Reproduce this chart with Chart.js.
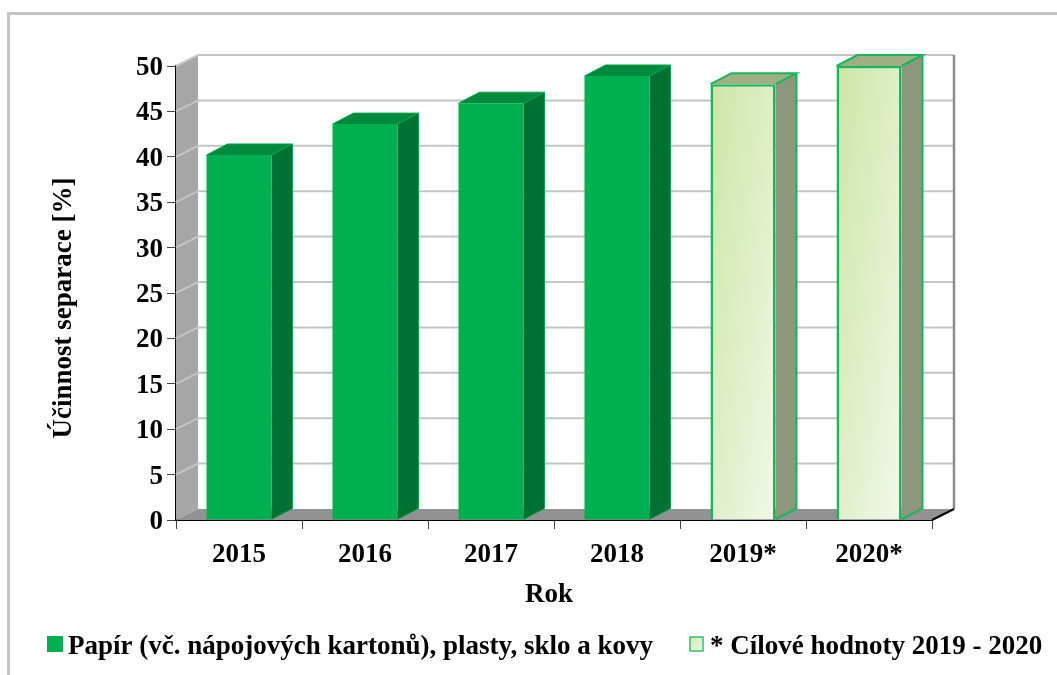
<!DOCTYPE html>
<html>
<head>
<meta charset="utf-8">
<script src="https://cdn.jsdelivr.net/npm/chart.js@4"></script>
<style>
  html, body { margin: 0; padding: 0; background: #fff; }
  canvas { display: block; }
</style>
</head>
<body>
<canvas id="chart" width="1057" height="675"></canvas>
<script>
const YEARS = ['2015', '2016', '2017', '2018', '2019*', '2020*'];
const ACTUAL_VALUES = [40.2, 43.6, 45.9, 48.9, null, null];
const TARGET_VALUES = [null, null, null, null, 48, 50];
const ACTUAL_LABEL = 'Papír (vč. nápojových kartonů), plasty, sklo a kovy';
const TARGET_LABEL = '* Cílové hodnoty 2019 - 2020';
const Y_TITLE = 'Účinnost separace [%]';
const X_TITLE = 'Rok';

const SERIF = '"Liberation Serif", "Times New Roman", serif';
const DEPTH_X = 22;
const DEPTH_Y = 11;

function polygon(ctx, pts, fill) {
  ctx.beginPath();
  pts.forEach((p, i) => i ? ctx.lineTo(p[0], p[1]) : ctx.moveTo(p[0], p[1]));
  ctx.closePath();
  ctx.fillStyle = fill;
  ctx.fill();
}

function drawWalls(chart) {
  const { ctx, chartArea: a, scales } = chart;
  polygon(ctx, [[a.left, a.top], [a.left + DEPTH_X, a.top - DEPTH_Y], [a.left + DEPTH_X, a.bottom - DEPTH_Y], [a.left, a.bottom]], '#a6a6a6');
  polygon(ctx, [[a.left, a.bottom], [a.right, a.bottom], [a.right + DEPTH_X, a.bottom - DEPTH_Y], [a.left + DEPTH_X, a.bottom - DEPTH_Y]], '#929292');

  ctx.lineWidth = 2;
  scales.y.ticks.forEach(t => {
    if (t.value === 0) return;
    const y = scales.y.getPixelForValue(t.value);
    ctx.strokeStyle = '#c4c4c4';
    ctx.beginPath();
    ctx.moveTo(a.left, y);
    ctx.lineTo(a.left + DEPTH_X, y - DEPTH_Y);
    ctx.lineTo(a.right + DEPTH_X, y - DEPTH_Y);
    ctx.stroke();
  });

  ctx.strokeStyle = '#8c8c8c';
  ctx.lineWidth = 2.5;
  ctx.beginPath();
  ctx.moveTo(a.right + DEPTH_X, a.top - DEPTH_Y);
  ctx.lineTo(a.right + DEPTH_X, a.bottom - DEPTH_Y);
  ctx.stroke();

  ctx.strokeStyle = '#000';
  ctx.lineWidth = 2;
  ctx.beginPath();
  ctx.moveTo(a.right, a.bottom);
  ctx.lineTo(a.right + DEPTH_X, a.bottom - DEPTH_Y);
  ctx.stroke();
}

function drawBarDepth(chart, datasetIndex, values, sideFill, topFill, edge, edgeWidth) {
  const { ctx } = chart;
  chart.getDatasetMeta(datasetIndex).data.forEach((bar, i) => {
    if (values[i] === null) return;
    const left = bar.x - bar.width / 2;
    const right = bar.x + bar.width / 2;
    const side = [[right, bar.y], [right + DEPTH_X - 1, bar.y - DEPTH_Y], [right + DEPTH_X - 1, bar.base - DEPTH_Y], [right, bar.base]];
    const top = [[left, bar.y], [left + DEPTH_X - 1, bar.y - DEPTH_Y], [right + DEPTH_X - 1, bar.y - DEPTH_Y], [right, bar.y]];
    polygon(ctx, side, sideFill);
    polygon(ctx, top, topFill);
    ctx.strokeStyle = edge;
    ctx.lineWidth = edgeWidth;
    ctx.beginPath();
    [top[0], top[1], top[2], top[3]].forEach((p, k) => k ? ctx.lineTo(p[0], p[1]) : ctx.moveTo(p[0], p[1]));
    ctx.moveTo(side[1][0], side[1][1]);
    ctx.lineTo(side[2][0], side[2][1]);
    ctx.lineTo(side[3][0], side[3][1]);
    ctx.stroke();
  });
}

function targetGradient(context) {
  const { chart, dataIndex } = context;
  const { ctx, chartArea, scales } = chart;
  if (!chartArea || !TARGET_VALUES[dataIndex]) return '#dcebc4';
  const x = scales.x.getPixelForValue(dataIndex);
  const top = scales.y.getPixelForValue(TARGET_VALUES[dataIndex]);
  const g = ctx.createLinearGradient(x - 32, top, x + 95, top + 19);
  g.addColorStop(0, '#cde5a5');
  g.addColorStop(1, '#f1f8e8');
  return g;
}

const depthPlugin = {
  id: 'depth',
  beforeDatasetsDraw(chart) {
    drawWalls(chart);
    drawBarDepth(chart, 0, ACTUAL_VALUES, '#007033', '#008a3e', '#00a64c', 1);
    drawBarDepth(chart, 1, TARGET_VALUES, '#8c977c', '#a1ad83', '#12b85c', 2);
  },
};

const textPlugin = {
  id: 'texts',
  afterDraw(chart) {
    const { ctx } = chart;
    ctx.save();
    ctx.fillStyle = '#000';
    ctx.textBaseline = 'alphabetic';
    ctx.textAlign = 'left';

    ctx.font = 'bold 27px ' + SERIF;
    ctx.fillStyle = '#00b050';
    ctx.fillRect(47, 636, 16, 16);
    ctx.fillStyle = '#000';
    ctx.fillText(ACTUAL_LABEL, 68, 654);

    const g = ctx.createLinearGradient(690, 637, 703, 651);
    g.addColorStop(0, '#d3e6b0');
    g.addColorStop(1, '#f0f7e6');
    ctx.fillStyle = g;
    ctx.fillRect(690, 637, 13, 14);
    ctx.strokeStyle = '#2fc070';
    ctx.lineWidth = 1.5;
    ctx.strokeRect(690, 637, 13, 14);
    ctx.fillStyle = '#000';
    ctx.fillText(TARGET_LABEL, 710, 654);

    ctx.textAlign = 'center';
    ctx.fillText(X_TITLE, 549, 602);
    ctx.translate(71, 308);
    ctx.rotate(-Math.PI / 2);
    ctx.fillText(Y_TITLE, 0, 0);
    ctx.restore();
  },
};

const framePlugin = {
  id: 'frame',
  beforeDraw(chart) {
    const { ctx } = chart;
    ctx.fillStyle = '#c4c4c4';
    ctx.fillRect(7, 12, 1050, 3);
    ctx.fillRect(7, 12, 3, 663);
  },
};

new Chart(document.getElementById('chart'), {
  type: 'bar',
  data: {
    labels: YEARS,
    datasets: [
      {
        label: ACTUAL_LABEL,
        data: ACTUAL_VALUES,
        backgroundColor: '#00b050',
      },
      {
        label: TARGET_LABEL,
        data: TARGET_VALUES,
        backgroundColor: targetGradient,
        borderColor: '#12b85c',
        borderWidth: 2.5,
      },
    ],
  },
  options: {
    responsive: false,
    animation: false,
    barPercentage: 0.516,
    categoryPercentage: 1,
    layout: { padding: { top: 66, right: 125 } },
    plugins: {
      legend: { display: false },
      tooltip: { enabled: false },
    },
    scales: {
      x: {
        stacked: true,
        afterFit: scale => { scale.height = 155; },
        border: { color: '#000', width: 2 },
        grid: { drawOnChartArea: false, tickLength: 9, tickColor: '#444', tickWidth: 1 },
        ticks: { color: '#000', padding: 10, font: { family: SERIF, size: 27, weight: 'bold' } },
      },
      y: {
        stacked: true,
        min: 0,
        max: 50,
        afterFit: scale => { scale.width = 176; },
        border: { color: '#000', width: 2 },
        grid: { drawOnChartArea: false, tickLength: 9, tickColor: '#444', tickWidth: 1 },
        ticks: { stepSize: 5, color: '#000', padding: 4, labelOffset: 2, font: { family: SERIF, size: 27, weight: 'bold' } },
      },
    },
  },
  plugins: [framePlugin, depthPlugin, textPlugin],
});
</script>
</body>
</html>
